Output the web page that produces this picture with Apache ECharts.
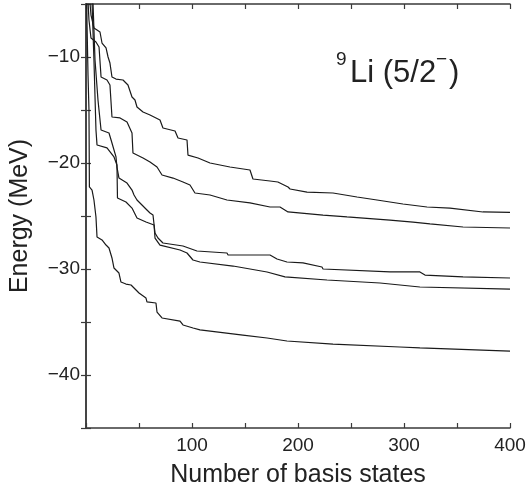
<!doctype html>
<html lang="en">
<head>
<meta charset="utf-8">
<title>9Li (5/2-) energy convergence</title>
<script src="https://cdn.jsdelivr.net/npm/echarts@6.0.0/dist/echarts.min.js"></script>
<style>
  html, body { margin: 0; padding: 0; background: #fff; }
  #chart { width: 526px; height: 489px; }
</style>
</head>
<body>
<div id="chart"></div>
<script>
  // energies (MeV) vs number of basis states
  const levelA = [[3, -4], [4.7, -6.04], [7.5, -7.26], [10.4, -7.45], [13.2, -7.64], [15.1, -8.68], [18.9, -9.15],
    [20.8, -10.0], [22.6, -10.57], [24.5, -11.89], [28.3, -12.08], [34.9, -12.17], [39.6, -12.64], [43.4, -13.77],
    [46.2, -14.06], [48.1, -14.72], [53.8, -15.19], [60.4, -15.47], [69.8, -15.94], [72.6, -16.7], [84, -16.98],
    [86.8, -17.64], [95.3, -17.83], [96.2, -19.25], [105.7, -19.53], [117, -20.0], [135.8, -20.38], [154.7, -20.66],
    [157.5, -21.51], [173.6, -21.7], [181, -21.79], [190.6, -22.26], [192.5, -22.45], [208.5, -22.74], [233, -22.83],
    [255.7, -23.21], [274.5, -23.49], [299, -23.87], [321.7, -24.15], [343.4, -24.25], [374.5, -24.62], [400, -24.65]];

  const levelB = [[1.5, -4], [2.8, -6.51], [4.7, -8.21], [9.4, -8.58], [12.3, -9.06], [14.2, -11.89], [19.8, -12.17],
    [22.6, -12.64], [24.5, -15.66], [32.1, -15.75], [38.7, -16.13], [43.4, -17.17], [44.3, -19.06], [53.8, -19.53],
    [60.4, -19.91], [67, -20.38], [71.7, -21.13], [82.1, -21.42], [91.5, -21.79], [98.1, -22.08], [102.8, -22.83],
    [117, -23.02], [133, -23.49], [154.7, -23.77], [173.6, -24.15], [183, -24.15], [190.6, -24.62], [223.6, -24.91],
    [246.2, -25.09], [286.8, -25.38], [308.5, -25.57], [324.5, -25.75], [355.7, -26.04], [400, -26.13]];

  const levelC = [[6.3, -4], [8.5, -10.28], [11.3, -14.06], [14.2, -16.89], [21.7, -17.17], [24.5, -18.11],
    [28.3, -19.43], [29.2, -20.38], [31.1, -21.42], [38.7, -21.89], [43.4, -22.55], [45.3, -23.02], [48.1, -23.49],
    [52.8, -23.96], [57.5, -24.43], [60.4, -24.72], [63.2, -24.91], [65.1, -26.6], [67.9, -27.08], [72.6, -27.55],
    [91.5, -27.83], [104.7, -28.3], [133, -28.49], [134, -28.68], [173.6, -28.68], [180.2, -29.06], [189.6, -29.34],
    [204.7, -29.43], [222.6, -29.81], [223.6, -30.0], [286.8, -30.28], [315, -30.28], [319.8, -30.57],
    [355.7, -30.75], [400, -30.85]];

  const levelD = [[5.4, -4], [7.5, -10.28], [9.4, -16.89], [10.4, -18.3], [19.8, -18.58], [26.4, -19.43],
    [29.2, -20.19], [29.7, -23.3], [37.7, -23.68], [43.4, -24.25], [48.1, -25.19], [56.6, -25.57], [64.2, -25.85],
    [65.1, -27.08], [69.8, -27.74], [88.7, -28.21], [95.3, -28.49], [100.9, -29.15], [107.5, -29.34],
    [138.7, -29.72], [170.8, -30.28], [187.7, -30.75], [227.4, -31.04], [277.4, -31.32], [315, -31.7], [400, -31.89]];

  const levelE = [[0.6, -4], [0.95, -6.8], [1.9, -11.7], [2.8, -15.0], [3.2, -22.26], [5.7, -22.55], [7.5, -23.49],
    [9.4, -25.09], [10.4, -26.98], [15.1, -27.26], [18.9, -27.74], [21.7, -28.02], [24.5, -28.96], [26.4, -29.91],
    [31.1, -30.38], [33, -31.23], [37.7, -31.42], [42.5, -31.51], [47.2, -31.98], [50, -32.26], [56.6, -32.74],
    [57.5, -33.11], [66, -33.21], [67, -34.06], [71.7, -34.62], [88.7, -34.91], [91.5, -35.28], [101, -35.57],
    [107.5, -35.75], [148, -36.23], [170.8, -36.51], [189.6, -36.79], [233, -37.08], [296, -37.36], [315, -37.45],
    [400, -37.74]];

  const xLabels = [100, 200, 300, 400];
  const yLabels = [-40, -30, -20, -10];

  const chart = echarts.init(document.getElementById('chart'), null, { renderer: 'canvas' });
  const font = '"Liberation Sans", Arial, Helvetica, sans-serif';
  const frame = { show: true, lineStyle: { color: '#3a3a3a', width: 1.5 } };
  const tick = { show: true, inside: true, length: 5, lineStyle: { color: '#3a3a3a', width: 1.2 } };

  function line(data) {
    return {
      type: 'line', data: data, showSymbol: false, symbol: 'none', clip: true,
      lineStyle: { color: '#1a1a1a', width: 1.2 }, silent: true
    };
  }

  chart.setOption({
    animation: false,
    grid: { left: 86, top: 4, width: 424, height: 424, outerBoundsMode: 'none', containLabel: false },
    xAxis: [{
      type: 'value', min: 0, max: 400, interval: 50,
      name: 'Number of basis states', nameLocation: 'middle', nameGap: 35,
      nameTextStyle: { fontFamily: font, fontSize: 25, color: '#222' },
      axisLine: frame, axisTick: tick, splitLine: { show: false },
      axisLabel: {
        fontFamily: font, fontSize: 19, color: '#222', margin: 8,
        formatter: v => xLabels.indexOf(v) >= 0 ? String(v) : ''
      }
    }, {
      type: 'value', min: 0, max: 400, interval: 50, position: 'top',
      axisLine: frame, axisTick: tick, axisLabel: { show: false }, splitLine: { show: false }
    }],
    yAxis: [{
      type: 'value', min: -45, max: -5, interval: 5,
      name: 'Energy (MeV)', nameLocation: 'middle', nameGap: 53,
      nameTextStyle: { fontFamily: font, fontSize: 25, color: '#222' },
      axisLine: frame, axisTick: tick, splitLine: { show: false },
      axisLabel: {
        fontFamily: font, fontSize: 19, color: '#222', margin: 6,
        formatter: v => yLabels.indexOf(v) >= 0 ? '\u2212' + Math.abs(v) : ''
      }
    }, {
      type: 'value', min: -45, max: -5, interval: 5, position: 'right',
      axisLine: frame, axisTick: tick, axisLabel: { show: false }, splitLine: { show: false }
    }],
    graphic: [
      { type: 'text', left: 336, top: 50, style: { text: '9', fontFamily: font, fontSize: 19, fill: '#222' } },
      { type: 'text', left: 350, top: 58, style: { text: 'Li (5/2', fontFamily: font, fontSize: 31, fill: '#222' } },
      { type: 'text', left: 436, top: 50, style: { text: '\u2212', fontFamily: font, fontSize: 19, fill: '#222' } },
      { type: 'text', left: 449, top: 58, style: { text: ')', fontFamily: font, fontSize: 31, fill: '#222' } }
    ],
    series: [line(levelA), line(levelB), line(levelC), line(levelD), line(levelE)]
  });
</script>
</body>
</html>
